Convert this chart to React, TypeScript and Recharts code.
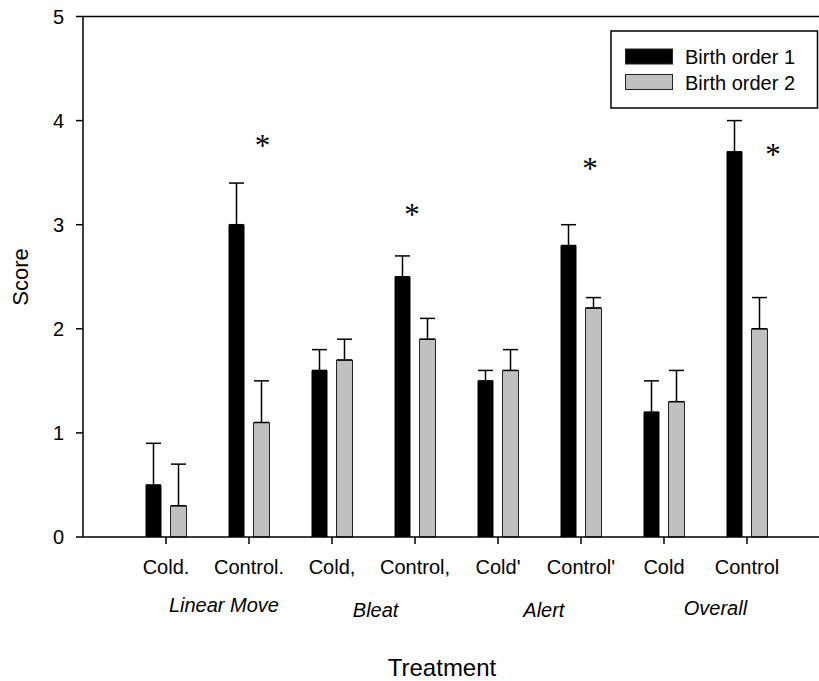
import React from 'react';
import { ComposedChart, Bar, ErrorBar, XAxis, YAxis, Scatter, ReferenceLine } from 'recharts';

// Treatment categories along the x axis
const treatments = ['Cold.', 'Control.', 'Cold,', 'Control,', "Cold'", "Control'", 'Cold', 'Control'];

// Mean scores and upper standard errors per birth order
const birthOrder1 = [0.5, 3.0, 1.6, 2.5, 1.5, 2.8, 1.2, 3.7];
const birthOrder1Err = [0.4, 0.4, 0.2, 0.2, 0.1, 0.2, 0.3, 0.3];
const birthOrder2 = [0.3, 1.1, 1.7, 1.9, 1.6, 2.2, 1.3, 2.0];
const birthOrder2Err = [0.4, 0.4, 0.2, 0.2, 0.2, 0.1, 0.3, 0.3];

const yTicks = [0, 1, 2, 3, 4, 5];

// Behaviour group captions, placed on a continuous 0..9 position axis
const groupNames = ['Linear Move', 'Bleat', 'Alert', 'Overall'];
const groupPositions = [1.7, 3.53, 5.56, 7.63];
const groupDrop = [34.5, 39.5, 39.5, 38];

// Significance markers (position on 0..9 axis, score height)
const sigPositions = [2.165, 3.969, 6.116, 8.324];
const sigHeights = [3.79, 3.13, 3.57, 3.71];

const seriesNames = ['Birth order 1', 'Birth order 2'];
const seriesFills = ['#000000', '#c0c0c0'];

const FONT = '"Liberation Sans", Arial, Helvetica, sans-serif';

const rows = treatments.map((name, i) => ({
  name,
  b1: birthOrder1[i],
  b2: birthOrder2[i],
  e1: [0, birthOrder1Err[i]],
  e2: [0, birthOrder2Err[i]],
}));

const sigRows = sigPositions.map((pos, i) => ({ pos, sig: sigHeights[i] }));

const GroupTick = (props: any) => {
  const { x, y, payload } = props;
  const i = groupPositions.indexOf(payload.value);
  if (i < 0) return null;
  return (
    <text
      x={x}
      y={y + groupDrop[i]}
      textAnchor="middle"
      fontStyle="italic"
      fontSize={20}
      fontFamily={FONT}
      fill="#000"
    >
      {groupNames[i]}
    </text>
  );
};

const Asterisk = (props: any) => {
  const { cx, cy } = props;
  return (
    <text
      x={cx}
      y={cy}
      dy={14}
      textAnchor="middle"
      fontSize={31}
      fontFamily='"Liberation Serif", "Times New Roman", serif'
      fill="#000"
    >
      *
    </text>
  );
};

export default function App() {
  return (
    <>
      <style>{'html,body{margin:0;padding:0;overflow:hidden;}'}</style>
      <div style={{ position: 'relative', width: 819, height: 681, overflow: 'hidden', background: '#fff' }}>
        <ComposedChart
          width={840}
          height={681}
          data={rows}
          margin={{ top: 16.5, right: 11, bottom: 34, left: 0 }}
          barGap={9}
        >
          <XAxis
            dataKey="name"
            type="category"
            height={40}
            padding={{ left: 41.5, right: 40.5 }}
            axisLine={{ stroke: '#000', strokeWidth: 1.5 }}
            tickLine={{ stroke: '#000', strokeWidth: 1.5 }}
            tickSize={7}
            tickMargin={16}
            interval={0}
            tick={{ fontSize: 20, fill: '#000', fontFamily: FONT }}
          />
          <XAxis
            xAxisId="groups"
            dataKey="pos"
            type="number"
            domain={[0, 9]}
            allowDataOverflow
            ticks={groupPositions}
            interval={0}
            height={70}
            axisLine={false}
            tickLine={false}
            tickSize={0}
            tickMargin={0}
            tick={<GroupTick />}
          />
          <YAxis
            type="number"
            domain={[0, 5]}
            ticks={yTicks}
            width={83}
            axisLine={{ stroke: '#000', strokeWidth: 1.5 }}
            tickLine={{ stroke: '#000', strokeWidth: 1.5 }}
            tickSize={7}
            tickMargin={12}
            interval={0}
            tick={{ fontSize: 20, fill: '#000', fontFamily: FONT }}
          />
          <ReferenceLine y={5} stroke="#000" strokeWidth={1.5} ifOverflow="visible" />
          <Bar dataKey="b1" name={seriesNames[0]} fill={seriesFills[0]} barSize={16} isAnimationActive={false}>
            <ErrorBar dataKey="e1" direction="y" width={7.5} stroke="#000" strokeWidth={1.5} />
          </Bar>
          <Bar
            dataKey="b2"
            name={seriesNames[1]}
            fill={seriesFills[1]}
            stroke="#222"
            strokeWidth={1}
            barSize={16}
            isAnimationActive={false}
          >
            <ErrorBar dataKey="e2" direction="y" width={7.5} stroke="#000" strokeWidth={1.5} />
          </Bar>
          <Scatter
            data={sigRows}
            xAxisId="groups"
            dataKey="sig"
            shape={<Asterisk />}
            isAnimationActive={false}
          />
        </ComposedChart>

        <svg
          width={819}
          height={681}
          style={{ position: 'absolute', left: 0, top: 0, pointerEvents: 'none' }}
        >
          {/* legend */}
          <rect x={611} y={31} width={206.5} height={77} fill="#fff" stroke="#000" strokeWidth={1.5} />
          {seriesNames.map((n, i) => (
            <g key={n}>
              <rect
                x={625.5}
                y={49 + i * 25.5}
                width={47}
                height={15}
                fill={seriesFills[i]}
                stroke="#222"
                strokeWidth={1}
              />
              <text x={685} y={64 + i * 25.5} fontSize={20} fontFamily={FONT} fill="#000">
                {n}
              </text>
            </g>
          ))}
          {/* axis titles */}
          <text
            x={20.5}
            y={277}
            transform="rotate(-90 20.5 277)"
            dy={7.8}
            textAnchor="middle"
            fontSize={22}
            fontFamily={FONT}
            fill="#000"
          >
            Score
          </text>
          <text x={442} y={676} textAnchor="middle" fontSize={24} fontFamily={FONT} fill="#000">
            Treatment
          </text>
        </svg>
      </div>
    </>
  );
}
